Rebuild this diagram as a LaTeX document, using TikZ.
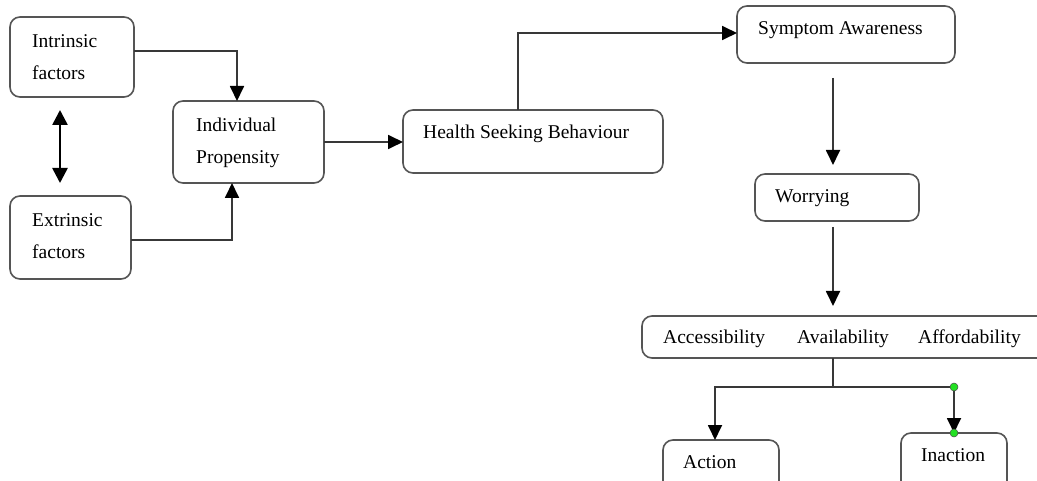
\documentclass[tikz,border=0pt]{standalone}
\usepackage{fontspec}
\setmainfont{Liberation Serif}
\usetikzlibrary{arrows.meta}
\definecolor{boxgray}{HTML}{555555}
\definecolor{linegray}{HTML}{383838}
\definecolor{dotgreen}{HTML}{22E022}
\begin{document}
\begin{tikzpicture}[x=1pt,y=-1pt,
  box/.style={draw=boxgray, line width=1.6pt, rounded corners=10pt, inner sep=0pt, outer sep=0pt, fill=white},
  lbl/.style={anchor=base west, inner sep=0pt, font=\fontsize{19.5}{23}\selectfont},
  conn/.style={draw=linegray, line width=1.8pt},
  arr/.style={conn, -{Triangle[width=14pt,length=15pt,color=black]}},
  dbl/.style={draw=black, line width=2.6pt, {Triangle[width=15pt,length=15pt]}-{Triangle[width=15pt,length=15pt]}},
  gdot/.style={circle, fill=dotgreen, draw=black!70, line width=0.5pt, inner sep=0pt, minimum size=8pt}
]
\clip (0,0) rectangle (1037,481);
\fill[white] (0,0) rectangle (1037,481);

% boxes
\node[box, minimum width=124pt, minimum height=80pt] (intr) at (72,57) {};
\node[box, minimum width=121pt, minimum height=83pt] (extr) at (70.5,237.5) {};
\node[box, minimum width=151pt, minimum height=82pt] (ip) at (248.5,142) {};
\node[box, minimum width=260pt, minimum height=63pt] (hsb) at (533,141.5) {};
\node[box, minimum width=218pt, minimum height=57pt] (sa) at (846,34.5) {};
\node[box, minimum width=164pt, minimum height=47pt] (wor) at (837,197.5) {};
\node[box, minimum width=405pt, minimum height=42pt] (aaa) at (844.5,337) {};
\node[box, minimum width=116pt, minimum height=65pt] (act) at (721,472.5) {};
\node[box, minimum width=106pt, minimum height=65pt] (inact) at (954,465.5) {};

% labels
\node[lbl] (t-intr1) at (32,48) {Intrinsic};
\node[lbl] (t-intr2) at (32,80) {factors};
\node[lbl] (t-extr1) at (32,227) {Extrinsic};
\node[lbl] (t-extr2) at (32,259) {factors};
\node[lbl] (t-ip1) at (196,132) {Individual};
\node[lbl] (t-ip2) at (196,164) {Propensity};
\node[lbl] (t-hsb) at (423,139) {Health Seeking Behaviour};
\node[lbl] (t-sa) at (758,35) {Symptom Awareness};
\node[lbl] (t-wor) at (775,203) {Worrying};
\node[lbl] (t-acc) at (663,343) {Accessibility};
\node[lbl] (t-ava) at (797,343) {Availability};
\node[lbl] (t-aff) at (918,343) {Affordability};
\node[lbl] (t-act) at (683,468) {Action};
\node[lbl] (t-inact) at (921,461) {Inaction};

% connectors
\draw[dbl, shorten <=13pt, shorten >=13pt] ([xshift=-12pt]intr.south) -- ([xshift=-10.5pt]extr.north);
\draw[arr] ([yshift=6pt]intr.east) -| ([xshift=-11.5pt]ip.north);
\draw[arr] ([yshift=-2.5pt]extr.east) -| ([xshift=-16.5pt]ip.south);
\draw[arr] (ip.east) -- (ip.east -| hsb.west);
\draw[arr] ([xshift=-15pt]hsb.north) |- ([yshift=1.5pt]sa.west);
\draw[arr, shorten <=15pt, shorten >=9pt] ([xshift=-13pt]sa.south) -- ([xshift=-4pt]wor.north);
\draw[arr, shorten <=6pt, shorten >=10pt] ([xshift=-4pt]wor.south) -- ([xshift=-11.5pt]aaa.north);
\coordinate (split) at (833,387);
\draw[conn] (aaa.south -| split) -- (split);
\draw[arr] (split) -| ([xshift=-6pt]act.north);
\draw[arr] (split) -| (inact.north);
\node[gdot] (d1) at (split -| inact.north) {};
\node[gdot] (d2) at (inact.north) {};
\end{tikzpicture}
\end{document}
